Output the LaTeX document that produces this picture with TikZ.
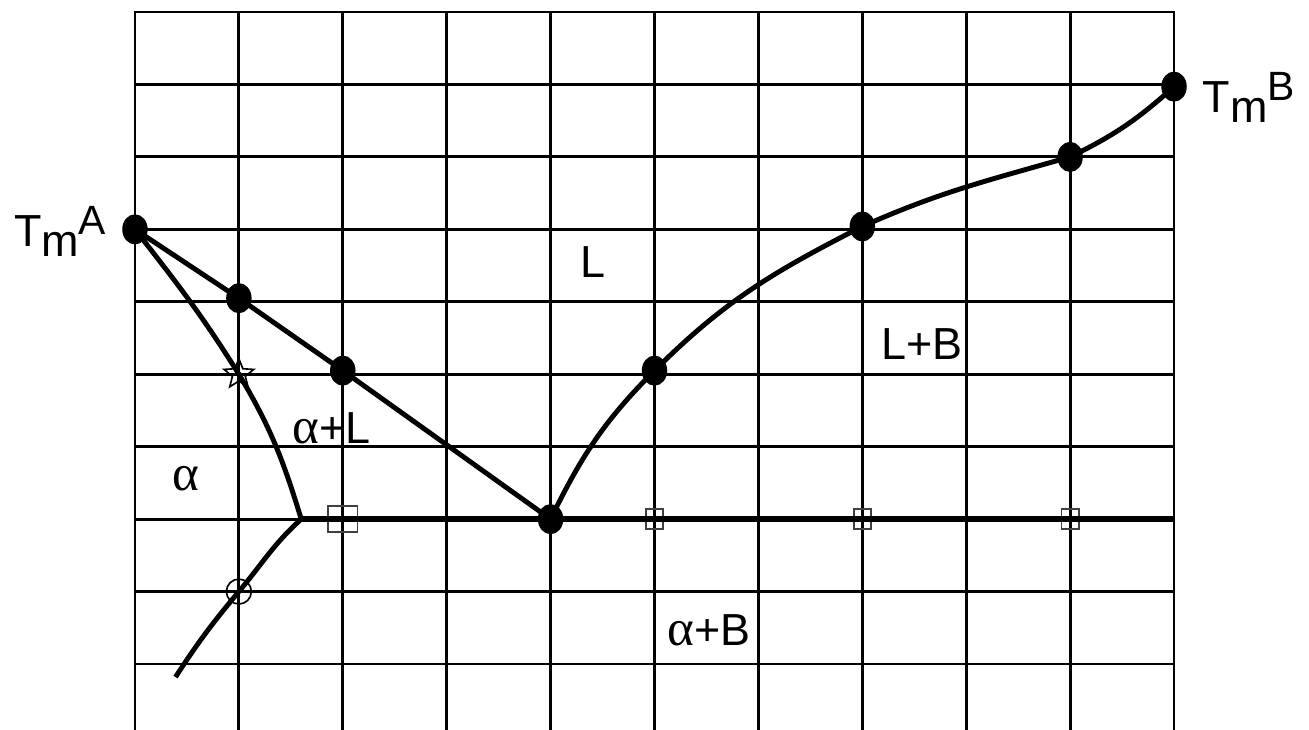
\documentclass[tikz,border=0pt]{standalone}
\usepackage{fontspec}
\setmainfont{Liberation Sans}
\newfontfamily\greekfont{Liberation Serif}
\usepackage{tikz}
\usetikzlibrary{shapes.geometric, calc}
\newcommand{\alf}{{\greekfont\fontsize{14}{14}\selectfont α}}
\newcommand{\Tm}[1]{T\raisebox{-0.22em}{m}\raisebox{0.27em}{\fontsize{11.2}{13}\selectfont #1}}
\tikzset{
  grd/.style={line width=0.8pt, black, line cap=rect},
  crv/.style={line width=1.35pt, black},
  eut/.style={line width=1.7pt, black},
  dot/.style={ellipse, fill=black, inner sep=0pt, minimum width=2.45mm,
              minimum height=2.9mm},
  sqbig/.style={rectangle, draw=black!75, line width=0.45pt, inner sep=0pt,
                minimum width=2.8mm, minimum height=2.5mm},
  sqsmall/.style={sqbig, minimum width=1.65mm, minimum height=1.9mm},
  starmk/.style={star, star points=5, star point ratio=2.3, draw,
                 line width=0.45pt, inner sep=0pt, minimum size=3mm},
  circmk/.style={circle, draw, line width=0.45pt, inner sep=0pt,
                 minimum size=2.4mm},
  lbl/.style={font=\fontsize{12.3}{14}\selectfont, inner sep=0pt,
              anchor=base west}
}
\begin{document}
\begin{tikzpicture}[x=1cm, y=0.6972cm]
  \useasboundingbox (-1.299,-0.897) rectangle (11.299,9.166);
  % grid
  \foreach \i in {0,...,10}
    \draw[grd] (\i,-0.95) -- (\i,9);
  \foreach \j in {0,...,9}
    \draw[grd] (0,\j) -- (10,\j);
  % points
  \node[dot] (tmA) at (0,6) {};
  \node[dot] (a1) at (1,5.05) {};
  \node[dot] (a2) at (2,4.05) {};
  \node[dot] (eu) at (4,2) {};
  \node[dot] (b1) at (5,4.05) {};
  \node[dot] (b2) at (7,6.04) {};
  \node[dot] (b3) at (9,7) {};
  \node[dot] (tmB) at (10,7.97) {};
  \node[starmk] (st) at (1,4) {};
  \node[circmk] (ci) at (1,1) {};
  \coordinate (kA) at (1.6,2);
  \coordinate (kB) at (10,2);
  \coordinate (sv) at (0.39,-0.18);
  \node[sqbig] (q2) at (2,2) {};
  \foreach \x in {5,7,9}
    \node[sqsmall] (q\x) at (\x,2) {};
  % curves
  \draw[crv] (tmA.center) -- (a1.center) -- (a2.center) -- (eu.center);
  \draw[crv] (tmA.center) to[out=-52, in=122] (st.center)
    to[out=-59, in=107] (kA);
  \draw[crv] (kA) to[out=222, in=50] (ci.center) to[out=230, in=57] (sv);
  \draw[eut] (kA) -- (kB);
  \draw[crv] (eu.center) to[out=64, in=225] (b1.center)
    to[out=45, in=207] (b2.center) to[out=24, in=196] (b3.center)
    to[out=26, in=222] (tmB.center);
  % labels
  \node[lbl, anchor=base east] (lA) at (-0.27,5.76) {\Tm{A}};
  \node[lbl] (lB) at (10.27,7.61) {\Tm{B}};
  \node[lbl] (lL) at (4.28,5.33) {L};
  \node[lbl] (lLB) at (7.18,4.2) {L+B};
  \node[lbl] (laL) at (1.51,3.05) {\alf+L};
  \node[lbl] (la) at (0.35,2.39) {\alf};
  \node[lbl] (laB) at (5.12,0.25) {\alf+B};
\end{tikzpicture}
\end{document}
